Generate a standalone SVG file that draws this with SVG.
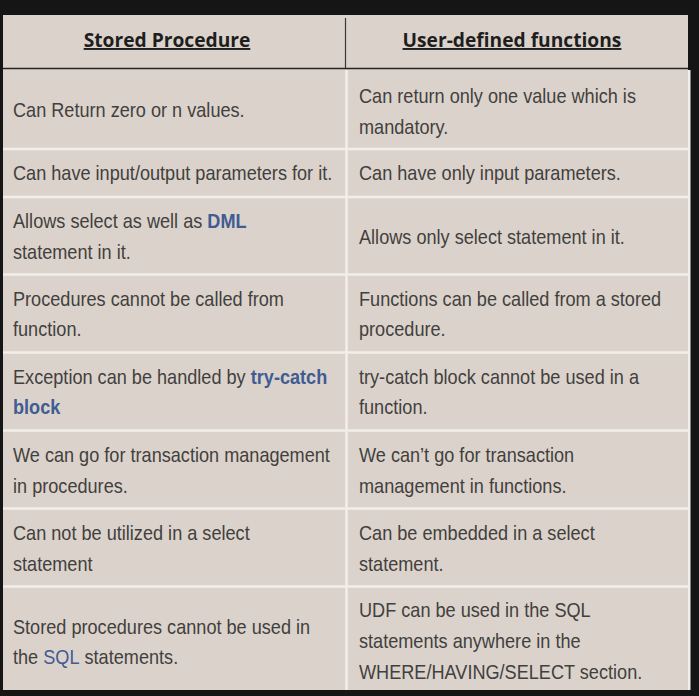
<svg xmlns="http://www.w3.org/2000/svg" width="699" height="696" viewBox="0 0 699 696">
<style>
.t{font-family:"Liberation Sans",Arial,sans-serif;font-size:19.5px;fill:#42403e;transform-box:fill-box;transform-origin:0 0;transform:scaleX(0.93)}
.h{font-family:"Open Sans","DejaVu Sans",sans-serif;font-size:19.2px;font-weight:bold;fill:#1e1e1e;text-decoration:underline}
.b{fill:#415b93;font-weight:bold}
.g{stroke:#f2eee9;stroke-width:2.5;fill:none}
</style>
<rect x="0" y="0" width="699" height="696" fill="#151515"/>
<rect x="3" y="15" width="685" height="675" fill="#dbd3cb"/>
<rect x="688" y="70" width="2.5" height="620" fill="#f2eee9"/>
<g id="grid">
<line x1="3" y1="68.5" x2="688" y2="68.5" stroke="#262422" stroke-width="1.6"/>
<line x1="345.5" y1="18" x2="345.5" y2="68" stroke="#3a3836" stroke-width="1.2"/>
<line class="g" x1="346.5" y1="70" x2="346.5" y2="690"/>
<line class="g" x1="3" y1="149" x2="688" y2="149"/>
<line class="g" x1="3" y1="197" x2="688" y2="197"/>
<line class="g" x1="3" y1="274.5" x2="688" y2="274.5"/>
<line class="g" x1="3" y1="352.5" x2="688" y2="352.5"/>
<line class="g" x1="3" y1="430.5" x2="688" y2="430.5"/>
<line class="g" x1="3" y1="508.5" x2="688" y2="508.5"/>
<line class="g" x1="3" y1="586.5" x2="688" y2="586.5"/>
</g>
<g id="header">
<text class="h" x="167" y="47" text-anchor="middle">Stored Procedure</text>
<text class="h" x="512" y="47" text-anchor="middle">User-defined functions</text>
</g>
<g id="row1">
<text class="t" x="13" y="117">Can Return zero or n values.</text>
<text class="t" x="359" y="103">Can return only one value which is</text>
<text class="t" x="359" y="134">mandatory.</text>
</g>
<g id="row2">
<text class="t" x="13" y="180">Can have input/output parameters for it.</text>
<text class="t" x="359" y="180">Can have only input parameters.</text>
</g>
<g id="row3">
<text class="t" x="13" y="228">Allows select as well as <tspan class="b">DML</tspan></text>
<text class="t" x="13" y="259">statement in it.</text>
<text class="t" x="359" y="244">Allows only select statement in it.</text>
</g>
<g id="row4">
<text class="t" x="13" y="306">Procedures cannot be called from</text>
<text class="t" x="13" y="336">function.</text>
<text class="t" x="359" y="306">Functions can be called from a stored</text>
<text class="t" x="359" y="336">procedure.</text>
</g>
<g id="row5">
<text class="t" x="13" y="384">Exception can be handled by <tspan class="b">try-catch</tspan></text>
<text class="t" x="13" y="414"><tspan class="b">block</tspan></text>
<text class="t" x="359" y="384">try-catch block cannot be used in a</text>
<text class="t" x="359" y="414">function.</text>
</g>
<g id="row6">
<text class="t" x="13" y="462">We can go for transaction management</text>
<text class="t" x="13" y="493">in procedures.</text>
<text class="t" x="359" y="462">We can’t go for transaction</text>
<text class="t" x="359" y="493">management in functions.</text>
</g>
<g id="row7">
<text class="t" x="13" y="540">Can not be utilized in a select</text>
<text class="t" x="13" y="571">statement</text>
<text class="t" x="359" y="540">Can be embedded in a select</text>
<text class="t" x="359" y="571">statement.</text>
</g>
<g id="row8">
<text class="t" x="13" y="634">Stored procedures cannot be used in</text>
<text class="t" x="13" y="664">the <tspan fill="#415b93">SQL</tspan> statements.</text>
<text class="t" x="359" y="617">UDF can be used in the SQL</text>
<text class="t" x="359" y="648">statements anywhere in the</text>
<text class="t" x="359" y="679">WHERE/HAVING/SELECT section.</text>
</g>
</svg>
